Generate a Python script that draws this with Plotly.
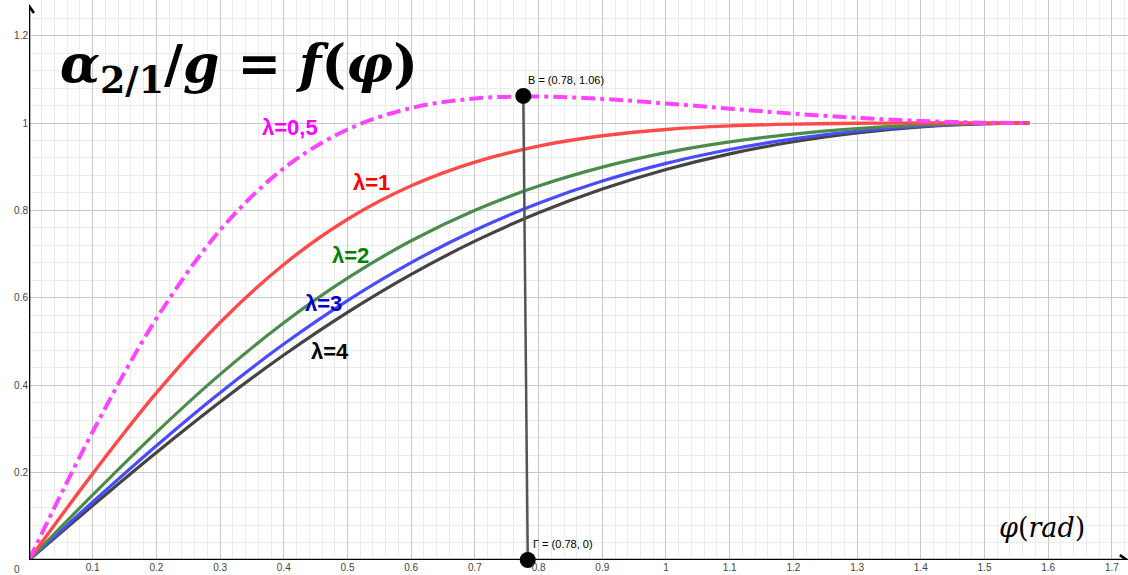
import plotly.graph_objects as go

# Angle samples (rad), from 0 to pi/2
phi = [0.0, 0.1, 0.2, 0.3, 0.4, 0.5, 0.6, 0.7, 0.8, 0.9, 1.0,
       1.1, 1.2, 1.3, 1.4, 1.5, 1.5708]

# alpha_{2/1}/g for each lambda
lam_05 = [0.0, 0.2936, 0.5524, 0.7547, 0.8964, 0.9853, 1.0344, 1.0561, 1.0606,
          1.0551, 1.0448, 1.0329, 1.0215, 1.0118, 1.0048, 1.0008, 1.0]
lam_1 = [0.0, 0.1977, 0.3823, 0.5436, 0.6763, 0.7797, 0.8563, 0.9105, 0.9473,
         0.9709, 0.9853, 0.9934, 0.9975, 0.9993, 0.9999, 1.0, 1.0]
lam_2 = [0.0, 0.1490, 0.2922, 0.4247, 0.5430, 0.6450, 0.7305, 0.8003, 0.8558,
         0.8991, 0.9322, 0.9568, 0.9747, 0.9871, 0.9950, 0.9992, 1.0]
lam_3 = [0.0, 0.1327, 0.2615, 0.3829, 0.4942, 0.5937, 0.6805, 0.7546, 0.8164,
         0.8671, 0.9077, 0.9395, 0.9637, 0.9811, 0.9926, 0.9987, 1.0]
lam_4 = [0.0, 0.1245, 0.2459, 0.3615, 0.4690, 0.5667, 0.6537, 0.7296, 0.7945,
         0.8489, 0.8936, 0.9295, 0.9572, 0.9775, 0.9912, 0.9985, 1.0]

# Marked points B (peak of lambda=0.5) and Gamma (its foot on the axis)
pt_x = [0.776, 0.783]
pt_y = [1.062, 0.0]
pt_names = ["B = (0.78, 1.06)", "Γ = (0.78, 0)"]

x_ticks = [0.1, 0.2, 0.3, 0.4, 0.5, 0.6, 0.7, 0.8, 0.9, 1.0, 1.1, 1.2, 1.3,
           1.4, 1.5, 1.6, 1.7]
x_tick_text = ["0.1", "0.2", "0.3", "0.4", "0.5", "0.6", "0.7", "0.8", "0.9",
               "1", "1.1", "1.2", "1.3", "1.4", "1.5", "1.6", "1.7"]
y_ticks = [0.2, 0.4, 0.6, 0.8, 1.0, 1.2]
y_tick_text = ["0.2", "0.4", "0.6", "0.8", "1", "1.2"]

X_MAX = 1.7253
Y_MAX = 1.2815

fig = go.Figure()

curves = [
    (lam_4, "#444444", 3.2, "solid"),
    (lam_3, "#4a4aff", 3.2, "solid"),
    (lam_2, "#4b8b4b", 3.2, "solid"),
    (lam_1, "#ff4a4a", 3.4, "solid"),
    (lam_05, "#ff44ff", 4, "14px,5px,4px,5px"),
]
for ys, col, w, dash in curves:
    fig.add_trace(go.Scatter(
        x=phi, y=ys, mode="lines",
        line=dict(color=col, width=w, dash=dash, shape="spline", smoothing=1.0),
        hoverinfo="skip", showlegend=False, cliponaxis=False))

# Segment B-Gamma
fig.add_trace(go.Scatter(
    x=pt_x, y=pt_y, mode="lines",
    line=dict(color="#555555", width=2.5),
    hoverinfo="skip", showlegend=False))

# Points
fig.add_trace(go.Scatter(
    x=pt_x, y=pt_y, mode="markers",
    marker=dict(color="#000000", size=16),
    hoverinfo="skip", showlegend=False, cliponaxis=False))

annotations = []

# Point labels
annotations.append(dict(x=pt_x[0], y=pt_y[0], text=pt_names[0], showarrow=False,
                        xanchor="left", yanchor="bottom", xshift=3, yshift=8,
                        font=dict(family="Arial", size=11, color="#000")))
annotations.append(dict(x=pt_x[1], y=pt_y[1], text=pt_names[1], showarrow=False,
                        xanchor="left", yanchor="bottom", xshift=3, yshift=8,
                        font=dict(family="Arial", size=11, color="#000")))

# Curve labels
labels = [
    ("λ=0,5", 0.41, 0.989, "#ff00ff"),
    ("λ=1", 0.538, 0.863, "#ff0000"),
    ("λ=2", 0.504, 0.696, "#008000"),
    ("λ=3", 0.462, 0.588, "#0000cc"),
    ("λ=4", 0.473, 0.476, "#000000"),
]
for txt, lx, ly, col in labels:
    annotations.append(dict(x=lx, y=ly, text="<b>%s</b>" % txt, showarrow=False,
                            font=dict(family="Arial", size=22, color=col)))

# Formula title
annotations.append(dict(
    x=0.045, y=1.128, xanchor="left", yanchor="middle", showarrow=False,
    text="<b><i>α</i><sub>2/1</sub>/<i>g</i> = <i>f</i>(<i>φ</i>)</b>",
    font=dict(family="DejaVu Serif", size=52, color="#000")))

# Axis name
annotations.append(dict(
    x=1.519, y=0.0755, xanchor="left", yanchor="middle", showarrow=False,
    text="<i>φ</i>(<i>rad</i>)",
    font=dict(family="DejaVu Serif", size=27, color="#000")))

# Origin label
annotations.append(dict(
    x=0, y=0, xanchor="right", yanchor="middle", xshift=-7, yshift=-9,
    showarrow=False, text="0",
    font=dict(family="Arial", size=10, color="#444")))

shapes = [
    # axes
    dict(type="line", x0=0, y0=0, x1=1.7235, y1=0, xref="x", yref="y",
         line=dict(color="#000", width=2.6), layer="above"),
    dict(type="line", x0=0, y0=0, x1=0, y1=1.2677, xref="x", yref="y",
         line=dict(color="#000", width=2.6), layer="above"),
    # arrow chevrons
    dict(type="path", xref="x", yref="y", xsizemode="pixel", ysizemode="pixel",
         xanchor=1.7235, yanchor=0, path="M -7,5 L 0,0 L -7,-5",
         line=dict(color="#000", width=2.6), layer="above"),
    dict(type="path", xref="x", yref="y", xsizemode="pixel", ysizemode="pixel",
         xanchor=0, yanchor=1.2677, path="M -5,-7 L 0,0 L 5,-7",
         line=dict(color="#000", width=2.6), layer="above"),
]

fig.update_layout(
    width=1128, height=575,
    margin=dict(l=29, r=0, t=0, b=15),
    paper_bgcolor="white", plot_bgcolor="white",
    showlegend=False,
    annotations=annotations,
    shapes=shapes,
    xaxis=dict(
        range=[0, X_MAX], showline=False, zeroline=False,
        tickvals=x_ticks, ticktext=x_tick_text, ticks="",
        tickfont=dict(family="Arial", size=10, color="#444"),
        showgrid=True, gridcolor="#c8c8c8", gridwidth=1,
        minor=dict(dtick=0.02, tick0=0, showgrid=True, gridcolor="#ececec", gridwidth=1),
        fixedrange=True),
    yaxis=dict(
        range=[0, Y_MAX], showline=False, zeroline=False,
        tickvals=y_ticks, ticktext=y_tick_text, ticks="",
        tickfont=dict(family="Arial", size=10, color="#444"),
        showgrid=True, gridcolor="#c8c8c8", gridwidth=1,
        minor=dict(dtick=0.04, tick0=0, showgrid=True, gridcolor="#ececec", gridwidth=1),
        fixedrange=True),
)

fig.write_html("out.html")
